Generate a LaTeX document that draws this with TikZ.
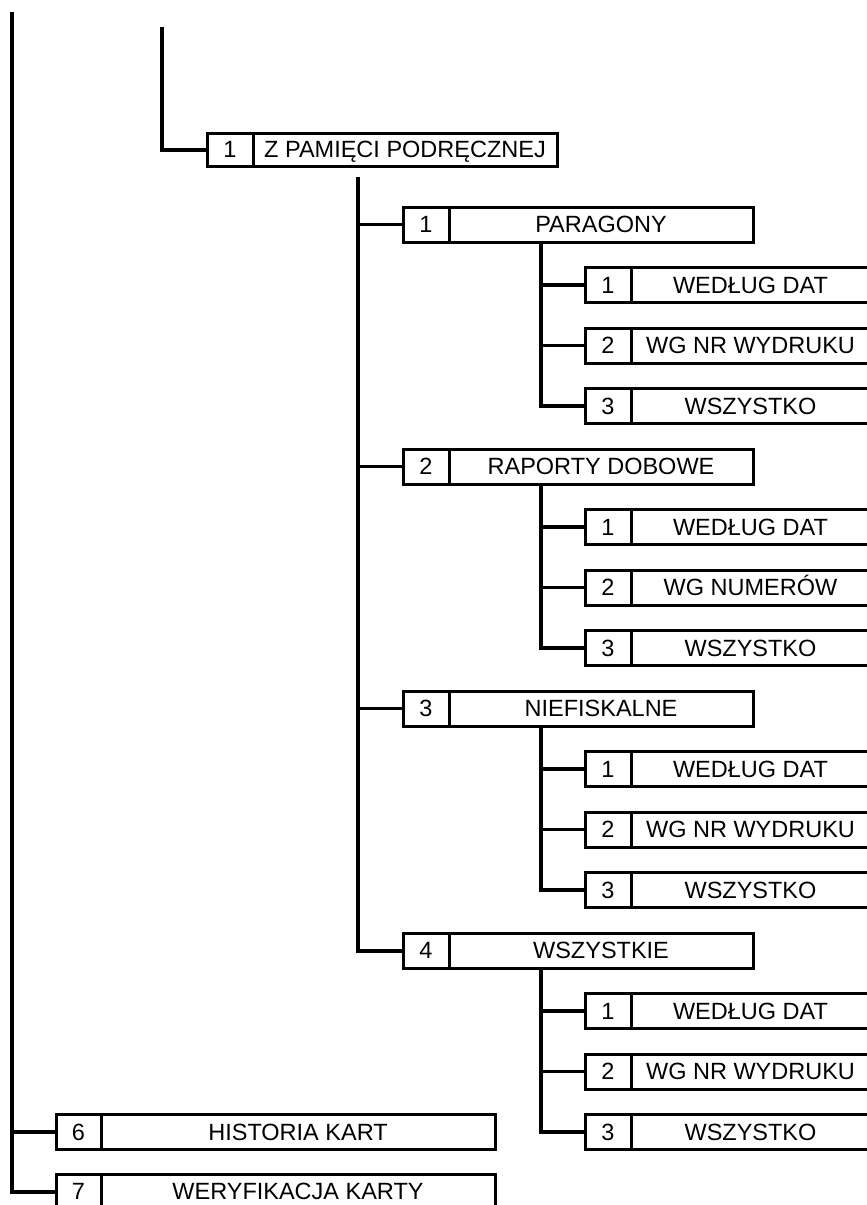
\documentclass[tikz,border=0pt]{standalone}
\usepackage{fontspec}
\setmainfont{Liberation Sans}
\newcommand{\menuitem}[8]{% name, xleft, ytop, xdiv, xright, num, text, height
  \node[box, minimum height=#8, minimum width={#4-#2}] (#1n) at (#2,#3) {#6};
  \node[box, minimum height=#8, minimum width={#5-#4}] (#1) at (#4,#3) {#7};
}
\begin{document}
\begin{tikzpicture}[x=1pt,y=-1pt,
  box/.style={draw, line width=3pt, rectangle, inner sep=0pt, outer sep=0pt,
    anchor=north west, text height=16.8pt, text depth=0pt,
    font=\fontsize{23.5}{27}\selectfont},
  conn/.style={line width=3.5pt},
  trunk/.style={line width=4pt}]
\useasboundingbox (0,0) rectangle (867,1205);
\clip (0,0) rectangle (867,1205);

% level 1
\menuitem{zp}{207}{133}{253}{557}{1}{Z PAMIĘCI PODRĘCZNEJ}{33}
% level 2
\menuitem{pa}{403}{207}{449}{753}{1}{PARAGONY}{35}
\menuitem{ra}{403}{449}{449}{753}{2}{RAPORTY DOBOWE}{35}
\menuitem{ni}{403}{691}{449}{753}{3}{NIEFISKALNE}{35}
\menuitem{wk}{403}{933}{449}{753}{4}{WSZYSTKIE}{35}
% level 3
\menuitem{paa}{585}{267.5}{631}{870}{1}{WEDŁUG DAT}{35}
\menuitem{pab}{585}{328}{631}{870}{2}{WG NR WYDRUKU}{35}
\menuitem{pac}{585}{388.5}{631}{870}{3}{WSZYSTKO}{35}
\menuitem{raa}{585}{509.5}{631}{870}{1}{WEDŁUG DAT}{35}
\menuitem{rab}{585}{570}{631}{870}{2}{WG NUMERÓW}{35}
\menuitem{rac}{585}{630.5}{631}{870}{3}{WSZYSTKO}{35}
\menuitem{nia}{585}{751.5}{631}{870}{1}{WEDŁUG DAT}{35}
\menuitem{nib}{585}{812}{631}{870}{2}{WG NR WYDRUKU}{35}
\menuitem{nic}{585}{872.5}{631}{870}{3}{WSZYSTKO}{35}
\menuitem{wka}{585}{993.5}{631}{870}{1}{WEDŁUG DAT}{35}
\menuitem{wkb}{585}{1054}{631}{870}{2}{WG NR WYDRUKU}{35}
\menuitem{wkc}{585}{1114.5}{631}{870}{3}{WSZYSTKO}{35}
% bottom items of the outer menu
\menuitem{hk}{56}{1114.5}{101}{495}{6}{HISTORIA KART}{35}
\menuitem{wf}{56}{1174}{101}{495}{7}{WERYFIKACJA KARTY}{35}

% trunks
\coordinate (t0) at (12,12);
\coordinate (t1) at (162,27);
\coordinate (t2) at (358,177);
\draw[trunk] (t0) |- (wfn.west);
\draw[conn] (t0 |- hkn.west) -- (hkn.west);
\draw[trunk] (t1) |- (zpn.west);
\draw[trunk] (t2) |- (wkn.west);
\draw[conn] (t2 |- pan.west) -- (pan.west);
\draw[conn] (t2 |- ran.west) -- (ran.west);
\draw[conn] (t2 |- nin.west) -- (nin.west);

% sub trunks
\foreach \g in {pa,ra,ni,wk}{
  \path (\g.south) ++(-60,0) coordinate (\g b);
  \draw[trunk] (\g b) |- (\g cn.west);
  \draw[conn] (\g b |- \g an.west) -- (\g an.west);
  \draw[conn] (\g b |- \g bn.west) -- (\g bn.west);
}
\end{tikzpicture}
\end{document}
